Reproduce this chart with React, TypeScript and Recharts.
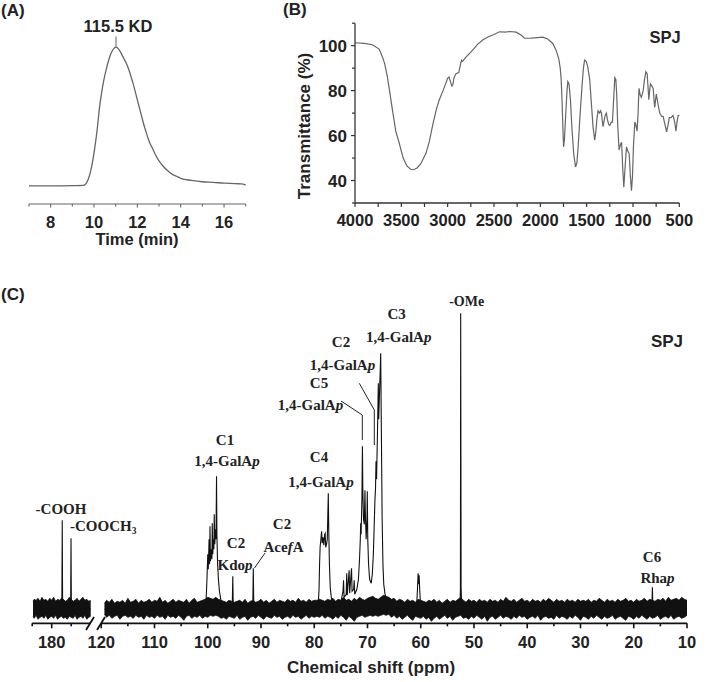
import React from 'react';
import { LineChart, Line, XAxis, YAxis, ComposedChart, Area } from 'recharts';

const SANS = '"Liberation Sans", Arial, sans-serif';
const SERIF = '"Liberation Serif", "Times New Roman", serif';

// ---------- Panel A: GPC elution profile ----------
const gpcTime = [7.0, 8.0, 9.0, 9.5, 9.55, 9.65, 9.75, 9.85, 9.95, 10.05, 10.15, 10.25, 10.35, 10.45, 10.55, 10.65, 10.75, 10.85, 10.95, 11.02, 11.1, 11.2, 11.3, 11.4, 11.5, 11.6, 11.7, 11.8, 11.9, 12.0, 12.1, 12.2, 12.3, 12.4, 12.5, 12.6, 12.7, 12.8, 13.0, 13.2, 13.4, 13.6, 13.8, 14.0, 14.5, 15.0, 15.5, 16.0, 16.5, 16.8, 17.0];
const gpcSignal = [0, 0, 0.002, 0.004, 0.006, 0.02, 0.055, 0.11, 0.19, 0.29, 0.41, 0.56, 0.67, 0.76, 0.83, 0.89, 0.94, 0.975, 0.995, 1.0, 0.99, 0.97, 0.94, 0.91, 0.88, 0.84, 0.79, 0.74, 0.68, 0.62, 0.56, 0.5, 0.44, 0.39, 0.34, 0.3, 0.27, 0.235, 0.18, 0.14, 0.11, 0.085, 0.07, 0.055, 0.04, 0.03, 0.026, 0.02, 0.016, 0.015, 0.006];
const gpcTicks = [7, 8, 9, 10, 11, 12, 13, 14, 15, 16, 17];
const gpcLabels = [8, 10, 12, 14, 16];

// ---------- Panel B: FT-IR ----------
const irPoints: [number, number][] = [
  [4000, 101.3], [3900, 101.0], [3812, 100.4], [3740, 98.5], [3704, 95], [3680, 92], [3650, 86], [3620, 78], [3596, 71.4], [3560, 62],
  [3524, 56.8], [3480, 50], [3440, 46.5], [3400, 45], [3370, 44.8], [3330, 45.6], [3290, 47.5], [3235, 52], [3200, 57], [3160, 65],
  [3120, 72], [3091, 75.8], [3050, 80], [3000, 85.5], [2985, 86], [2970, 84], [2955, 82], [2945, 82.5], [2930, 86], [2910, 87.5],
  [2880, 88], [2860, 92], [2850, 93.5], [2840, 93], [2800, 95], [2730, 98], [2680, 100.5], [2622, 102.5], [2560, 104], [2500, 105],
  [2441, 106.2], [2380, 106], [2330, 106.3], [2261, 106], [2200, 104.5], [2171, 103.3], [2100, 103.4], [2030, 103.6], [1974, 103.8], [1920, 103],
  [1865, 101], [1830, 98], [1800, 94], [1785, 90], [1775, 85], [1765, 75], [1755, 62], [1749, 55], [1740, 58], [1725, 70],
  [1712, 80], [1703, 84], [1690, 83], [1675, 76], [1660, 64], [1640, 52], [1620, 46], [1605, 48], [1590, 56], [1570, 70],
  [1550, 82], [1535, 90], [1522, 93.6], [1505, 93], [1490, 91], [1467, 85], [1450, 75], [1431, 64], [1413, 58], [1400, 62],
  [1390, 67], [1377, 71], [1360, 70], [1350, 71], [1340, 70], [1330, 66], [1323, 64], [1310, 67], [1300, 69], [1287, 70],
  [1275, 67], [1262, 65], [1250, 64.5], [1235, 66], [1222, 66], [1210, 75], [1196, 85.8], [1185, 85], [1175, 78], [1165, 65],
  [1150, 53.6], [1135, 56], [1123, 57], [1110, 45], [1099, 37], [1085, 46], [1070, 55], [1055, 53], [1041, 52], [1028, 42],
  [1016, 35.5], [1005, 42], [995, 55], [980, 66], [970, 65], [955, 62], [945, 70], [935, 81], [922, 78], [909, 77],
  [890, 80], [875, 85], [861, 88.4], [847, 87.5], [838, 82], [829, 76], [820, 80], [811, 83], [795, 82], [782, 81],
  [773, 76], [765, 72.5], [756, 76], [748, 78.5], [730, 74], [711, 70], [690, 68.5], [675, 68.5], [655, 65], [637, 61.7],
  [625, 64], [608, 68], [590, 68], [567, 69], [550, 66], [536, 62], [525, 66], [512, 69], [500, 69],
];
const irXTicks = [4000, 3750, 3500, 3250, 3000, 2750, 2500, 2250, 2000, 1750, 1500, 1250, 1000, 750, 500];
const irXLabels = [4000, 3500, 3000, 2500, 2000, 1500, 1000, 500];
const irYTicks = [30, 40, 50, 60, 70, 80, 90, 100, 110];
const irYLabels = [40, 60, 80, 100];

// ---------- Panel C: 13C NMR ----------
// noise band [ppm, low, high]
const nmrLeftBand: [number, number, number][] = [
  [184.8, -7, 8], [184.5, -9, 10], [184.0, -6, 9], [183.5, -10, 11], [183.0, -8, 8], [182.5, -7, 12], [182.0, -9, 9], [181.5, -6, 10],
  [181.0, -10, 8], [180.5, -8, 11], [180.0, -7, 9], [179.5, -9, 12], [179.0, -6, 8], [178.5, -10, 10], [178.0, -8, 9], [177.5, -7, 11],
  [177.0, -9, 10], [176.5, -8, 8], [176.0, -10, 9], [175.5, -7, 12], [175.0, -8, 10], [174.5, -9, 8], [174.0, -6, 9], [173.5, -10, 11],
  [173.0, -8, 8], [172.5, -7, 10], [172.0, -9, 12], [171.5, -6, 9], [171.0, -10, 10], [170.5, -8, 8], [170.0, -7, 9], [169.6, -5, 6],
];
const nmrRightBand: [number, number, number][] = [
  [119.4, -5, 6], [119.0, -8, 9], [118.5, -6, 7], [118.0, -9, 10], [117.5, -7, 6], [117.0, -6, 8], [116.5, -10, 7], [116.0, -7, 9], [115.5, -6, 6], [115.0, -8, 11],
  [114.5, -7, 7], [114.0, -9, 8], [113.5, -6, 10], [113.0, -8, 6], [112.5, -7, 9], [112.0, -10, 7], [111.5, -6, 8], [111.0, -8, 10], [110.5, -7, 7], [110.0, -9, 9],
  [109.5, -6, 8], [109.0, -8, 12], [108.5, -7, 7], [108.0, -10, 9], [107.5, -6, 6], [107.0, -8, 8], [106.5, -7, 10], [106.0, -9, 7], [105.5, -6, 9], [105.0, -8, 8],
  [104.5, -11, 7], [104.0, -7, 10], [103.5, -6, 6], [103.0, -9, 9], [102.5, -7, 11], [102.0, -8, 7], [101.5, -6, 8], [101.0, -9, 9], [100.5, -7, 10], [100.0, -8, 12],
  [99.5, -6, 11], [99.0, -7, 10], [98.5, -6, 12], [98.0, -7, 10], [97.5, -9, 9], [97.0, -8, 8], [96.5, -10, 7], [96.0, -7, 9], [95.5, -8, 8], [95.0, -9, 7],
  [94.5, -6, 8], [94.0, -10, 9], [93.5, -8, 7], [93.0, -7, 10], [92.5, -11, 6], [92.0, -8, 8], [91.5, -7, 9], [91.0, -9, 7], [90.5, -6, 8], [90.0, -8, 10],
  [89.5, -10, 7], [89.0, -7, 9], [88.5, -8, 6], [88.0, -9, 8], [87.5, -6, 10], [87.0, -8, 7], [86.5, -7, 9], [86.0, -10, 8], [85.5, -8, 7], [85.0, -7, 10],
  [84.5, -9, 8], [84.0, -6, 9], [83.5, -8, 7], [83.0, -7, 11], [82.5, -10, 8], [82.0, -8, 9], [81.5, -6, 7], [81.0, -9, 10], [80.5, -7, 8], [80.0, -8, 9],
  [79.5, -7, 9], [79.0, -8, 10], [78.5, -6, 9], [78.0, -9, 8], [77.5, -7, 10], [77.0, -8, 9], [76.5, -10, 11], [76.0, -7, 8], [75.5, -9, 10], [75.0, -6, 9],
  [74.5, -8, 12], [74.0, -11, 9], [73.5, -7, 10], [73.0, -9, 8], [72.5, -12, 11], [72.0, -8, 9], [71.5, -7, 12], [71.0, -6, 10], [70.5, -8, 9], [70.0, -7, 11],
  [69.5, -6, 12], [69.0, -7, 13], [68.5, -6, 11], [68.0, -7, 10], [67.5, -6, 12], [67.0, -5, 14], [66.5, -6, 13], [66.0, -5, 12], [65.5, -8, 10], [65.0, -6, 11],
  [64.5, -9, 8], [64.0, -7, 10], [63.5, -10, 9], [63.0, -8, 7], [62.5, -6, 10], [62.0, -9, 8], [61.5, -11, 9], [61.0, -7, 7], [60.5, -8, 10], [60.0, -9, 9],
  [59.5, -7, 8], [59.0, -10, 7], [58.5, -8, 9], [58.0, -12, 8], [57.5, -9, 10], [57.0, -7, 7], [56.5, -10, 9], [56.0, -8, 6], [55.5, -6, 8], [55.0, -9, 10],
  [54.5, -7, 7], [54.0, -11, 9], [53.5, -8, 8], [53.0, -7, 10], [52.5, -6, 12], [52.0, -9, 9], [51.5, -8, 7], [51.0, -10, 10], [50.5, -7, 8], [50.0, -9, 9],
  [49.5, -6, 7], [49.0, -8, 10], [48.5, -10, 8], [48.0, -7, 9], [47.5, -12, 7], [47.0, -8, 10], [46.5, -7, 8], [46.0, -10, 9], [45.5, -8, 7], [45.0, -6, 10],
  [44.5, -9, 8], [44.0, -7, 12], [43.5, -8, 9], [43.0, -10, 8], [42.5, -7, 10], [42.0, -9, 7], [41.5, -6, 9], [41.0, -8, 11], [40.5, -7, 8], [40.0, -10, 9],
  [39.5, -8, 7], [39.0, -7, 10], [38.5, -9, 8], [38.0, -6, 9], [37.5, -11, 7], [37.0, -8, 10], [36.5, -7, 8], [36.0, -9, 11], [35.5, -8, 9], [35.0, -10, 7],
  [34.5, -6, 10], [34.0, -9, 8], [33.5, -7, 9], [33.0, -8, 7], [32.5, -10, 10], [32.0, -7, 8], [31.5, -9, 9], [31.0, -6, 7], [30.5, -8, 10], [30.0, -11, 8],
  [29.5, -7, 9], [29.0, -8, 8], [28.5, -10, 10], [28.0, -7, 7], [27.5, -9, 9], [27.0, -6, 8], [26.5, -8, 11], [26.0, -10, 9], [25.5, -7, 7], [25.0, -9, 10],
  [24.5, -8, 8], [24.0, -6, 9], [23.5, -10, 7], [23.0, -8, 10], [22.5, -7, 8], [22.0, -9, 9], [21.5, -11, 11], [21.0, -7, 8], [20.5, -8, 9], [20.0, -10, 7],
  [19.5, -7, 10], [19.0, -9, 8], [18.5, -6, 9], [18.0, -8, 11], [17.5, -10, 8], [17.0, -7, 10], [16.5, -9, 9], [16.0, -8, 8], [15.5, -6, 10], [15.0, -10, 9],
  [14.5, -8, 11], [14.0, -7, 8], [13.5, -9, 12], [13.0, -6, 9], [12.5, -10, 10], [12.0, -8, 11], [11.5, -7, 9], [11.0, -9, 12], [10.5, -8, 10], [10.0, -6, 9],
];
// resonance trace [ppm, intensity]
const nmrLeftPeaks: [number, number][] = [
  [184.8, 0], [177.4, 0], [177.3, 89], [177.2, 0], [175.15, 0], [175.05, 71], [174.95, 0], [169.6, 0],
];
const nmrRightPeaks: [number, number][] = [
  [119.4, 0], [100.6, 0], [100.3, 10], [100.15, 30], [100.0, 55], [99.9, 40], [99.75, 70], [99.65, 45], [99.58, 83], [99.5, 48],
  [99.35, 60], [99.22, 50], [99.15, 86], [99.05, 55], [98.95, 70], [98.85, 60], [98.78, 95], [98.68, 65], [98.55, 80], [98.45, 70],
  [98.35, 133], [98.28, 75], [98.15, 45], [98.0, 30], [97.8, 18], [97.5, 8], [97.2, 0],
  [95.4, 0], [95.3, 33], [95.2, 0],
  [91.55, 0], [91.45, 41], [91.35, 0],
  [79.3, 0], [79.1, 20], [79.0, 45], [78.9, 62], [78.75, 70], [78.62, 78], [78.5, 66], [78.35, 72], [78.2, 64], [78.05, 75],
  [77.95, 76], [77.85, 62], [77.7, 65], [77.55, 70], [77.45, 95], [77.36, 116], [77.28, 80], [77.15, 45], [77.0, 22], [76.8, 12],
  [76.5, 5], [76.2, 0],
  [75.2, 0], [74.9, 10], [74.6, 18], [74.5, 29], [74.4, 12], [74.0, 15], [73.9, 36], [73.8, 14], [73.45, 39], [73.35, 16],
  [73.0, 41], [72.9, 18], [72.6, 20], [72.5, 29], [72.4, 15], [72.0, 20], [71.7, 30], [71.5, 50], [71.35, 70], [71.28, 86],
  [71.2, 75], [71.05, 110], [70.95, 163], [70.88, 120], [70.75, 90], [70.6, 85], [70.48, 119], [70.4, 95], [70.25, 70], [70.1, 90],
  [70.04, 118], [69.95, 70], [69.8, 45], [69.6, 30], [69.3, 26], [69.1, 35], [68.9, 55], [68.75, 82], [68.6, 110], [68.5, 120],
  [68.4, 148], [68.3, 130], [68.15, 170], [68.05, 200], [67.97, 226], [67.9, 190], [67.75, 215], [67.6, 240], [67.52, 256], [67.45, 210],
  [67.35, 150], [67.25, 90], [67.1, 45], [66.95, 25], [66.7, 15], [66.3, 8], [65.8, 0],
  [60.8, 0], [60.6, 22], [60.5, 36], [60.4, 25], [60.3, 34], [60.2, 20], [60.0, 0],
  [52.65, 0], [52.55, 20], [52.5, 296], [52.42, 22], [52.3, 0],
  [16.6, 0], [16.5, 22], [16.4, 0],
  [10.0, 0],
];
const nmrLeftTicks = [185, 180, 175];
const nmrRightTicks = [120, 115, 110, 105, 100, 95, 90, 85, 80, 75, 70, 65, 60, 55, 50, 45, 40, 35, 30, 25, 20, 15, 10];
const nmrLabelStep = 10;

// ---------- derived chart rows ----------
const gpcData = gpcTime.map((t, i) => ({ t, s: gpcSignal[i] }));
const irData = irPoints.map(([w, T]) => ({ w, T }));
const toBand = (rows: [number, number, number][]) => rows.map(([ppm, lo, hi]) => ({ ppm, range: [lo, hi] }));
const toTrace = (rows: [number, number][]) => rows.map(([ppm, v]) => ({ ppm, v }));

type TickOpts = {
  labels: (v: number) => boolean;
  major: (v: number) => boolean;
  majorLen: number;
  minorLen: number;
  dy: number;
  fontSize: number;
  stroke: string;
  strokeWidth: number;
  color: string;
};

const bottomTick = (o: TickOpts) => (props: any) => {
  const { x, y, payload } = props;
  const v = payload.value;
  const len = o.major(v) ? o.majorLen : o.minorLen;
  return (
    <g>
      <line x1={x} x2={x} y1={y} y2={y + len} stroke={o.stroke} strokeWidth={o.strokeWidth} />
      {o.labels(v) ? (
        <text x={x} y={y + o.dy} textAnchor="middle" fontFamily={SANS} fontWeight="bold" fontSize={o.fontSize} fill={o.color}>
          {v}
        </text>
      ) : null}
    </g>
  );
};

const leftTick = (props: any) => {
  const { x, y, payload } = props;
  const v = payload.value;
  const major = irYLabels.includes(v);
  return (
    <g>
      <line x1={x} x2={x - (major ? 4 : 3)} y1={y} y2={y} stroke="#333" strokeWidth={1.2} />
      {major ? (
        <text x={x - 8} y={y + 6} textAnchor="end" fontFamily={SANS} fontWeight="bold" fontSize={17} fill="#222">
          {v}
        </text>
      ) : null}
    </g>
  );
};

const nmrTick = bottomTick({
  labels: (v) => v % nmrLabelStep === 0,
  major: (v) => v % nmrLabelStep === 0,
  majorLen: 5,
  minorLen: 3,
  dy: 24.7,
  fontSize: 16.5,
  stroke: '#111',
  strokeWidth: 1.6,
  color: '#222',
});

const NMR_MARGIN = { top: 20, bottom: 0 };
const NMR_Y = [-14, 309.3];

const Sub = ({ children }: { children: React.ReactNode }) => <tspan fontStyle="italic">{children}</tspan>;

export default function App() {
  const serif = { fontFamily: SERIF, fontWeight: 'bold' as const, fill: '#222' };
  const sans = { fontFamily: SANS, fontWeight: 'bold' as const, fill: '#222' };
  const fs = 15;
  return (
    <div style={{ position: 'absolute', left: 0, top: 0, width: 709, height: 682, background: '#fff', overflow: 'hidden' }}>
      {/* Panel A */}
      <div style={{ position: 'absolute', left: 0, top: 0 }}>
        <LineChart width={260} height={260} data={gpcData} margin={{ top: 33.1, right: 14.3, bottom: 0, left: 29 }}>
          <XAxis
            dataKey="t"
            type="number"
            domain={[7, 17]}
            ticks={gpcTicks}
            interval={0}
            height={56}
            tickSize={0}
            tickMargin={0}
            tickLine={false}
            axisLine={{ stroke: '#666', strokeWidth: 1.2 }}
            tick={bottomTick({
              labels: (v) => gpcLabels.includes(v),
              major: (v) => gpcLabels.includes(v),
              majorLen: 3.5,
              minorLen: 2.5,
              dy: 23.7,
              fontSize: 16.5,
              stroke: '#666',
              strokeWidth: 1.1,
              color: '#222',
            })}
          />
          <YAxis hide domain={[-0.13, 1.1]} allowDataOverflow />
          <Line type="monotone" dataKey="s" stroke="#666" strokeWidth={1.3} dot={false} isAnimationActive={false} />
        </LineChart>
      </div>

      {/* Panel B */}
      <div style={{ position: 'absolute', left: 260, top: 0 }}>
        <LineChart width={449} height={260} data={irData} margin={{ top: 23.2, right: 29.7, bottom: 0, left: 0 }}>
          <XAxis
            dataKey="w"
            type="number"
            domain={[500, 4000]}
            reversed
            ticks={irXTicks}
            interval={0}
            height={57}
            tickSize={0}
            tickMargin={0}
            tickLine={false}
            axisLine={{ stroke: '#333', strokeWidth: 1.3 }}
            tick={bottomTick({
              labels: (v) => irXLabels.includes(v),
              major: () => true,
              majorLen: 4,
              minorLen: 4,
              dy: 22.7,
              fontSize: 16.5,
              stroke: '#333',
              strokeWidth: 1.2,
              color: '#222',
            })}
          />
          <YAxis
            type="number"
            domain={[30, 110]}
            ticks={irYTicks}
            interval={0}
            width={95}
            tickSize={0}
            tickMargin={0}
            tickLine={false}
            axisLine={{ stroke: '#333', strokeWidth: 1.3 }}
            tick={leftTick}
            allowDataOverflow
          />
          <Line type="linear" dataKey="T" stroke="#666" strokeWidth={1.2} dot={false} isAnimationActive={false} />
        </LineChart>
      </div>

      {/* Panel C left segment (broken axis) */}
      <div style={{ position: 'absolute', left: 0, top: 280 }}>
        <ComposedChart width={100} height={400} margin={{ ...NMR_MARGIN, left: 32.2, right: 9.3 }}>
          <XAxis
            dataKey="ppm"
            type="number"
            domain={[170, 185]}
            reversed
            allowDataOverflow
            ticks={nmrLeftTicks}
            interval={0}
            height={56.7}
            tickSize={0}
            tickMargin={0}
            tickLine={false}
            axisLine={{ stroke: '#111', strokeWidth: 1.8 }}
            tick={nmrTick}
          />
          <YAxis hide domain={NMR_Y} allowDataOverflow />
          <Area data={toBand(nmrLeftBand)} dataKey="range" type="linear" stroke="#111" strokeWidth={0.8} fill="#111" fillOpacity={1} isAnimationActive={false} dot={false} />
          <Line data={toTrace(nmrLeftPeaks)} dataKey="v" type="linear" stroke="#111" strokeWidth={1.1} dot={false} isAnimationActive={false} />
        </ComposedChart>
      </div>

      {/* Panel C right segment */}
      <div style={{ position: 'absolute', left: 0, top: 280 }}>
        <ComposedChart width={709} height={400} margin={{ ...NMR_MARGIN, left: 101.25, right: 22 }}>
          <XAxis
            dataKey="ppm"
            type="number"
            domain={[10, 120]}
            reversed
            allowDataOverflow
            ticks={nmrRightTicks}
            interval={0}
            height={56.7}
            tickSize={0}
            tickMargin={0}
            tickLine={false}
            axisLine={{ stroke: '#111', strokeWidth: 1.8 }}
            tick={nmrTick}
          />
          <YAxis hide domain={NMR_Y} allowDataOverflow />
          <Area data={toBand(nmrRightBand)} dataKey="range" type="linear" stroke="#111" strokeWidth={0.8} fill="#111" fillOpacity={1} isAnimationActive={false} dot={false} />
          <Line data={toTrace(nmrRightPeaks)} dataKey="v" type="linear" stroke="#111" strokeWidth={1.1} dot={false} isAnimationActive={false} />
        </ComposedChart>
      </div>

      {/* Annotations */}
      <svg width={709} height={682} style={{ position: 'absolute', left: 0, top: 0, pointerEvents: 'none' }}>
        {/* panel letters */}
        <text x={1} y={16} fontSize={17} {...sans}>(A)</text>
        <text x={283} y={15} fontSize={17} {...sans}>(B)</text>
        <text x={1} y={300} fontSize={17} {...sans}>(C)</text>

        {/* Panel A */}
        <text x={118} y={31.5} textAnchor="middle" fontSize={16.5} {...sans}>115.5 KD</text>
        <line x1={116} x2={116} y1={36.5} y2={46} stroke="#666" strokeWidth={1} />
        <text x={137} y={245} textAnchor="middle" fontSize={16.5} {...sans}>Time (min)</text>

        {/* Panel B */}
        <text x={310} y={126} textAnchor="middle" fontSize={17} transform="rotate(-90 310 126)" {...sans}>Transmittance (%)</text>
        <text x={665} y={43} textAnchor="middle" fontSize={16.5} {...sans}>SPJ</text>

        {/* Panel C */}
        <text x={667} y={346.5} textAnchor="middle" fontSize={17} {...sans}>SPJ</text>
        <text x={371} y={673} textAnchor="middle" fontSize={17} {...sans}>Chemical shift (ppm)</text>
        <line x1={86} y1={630} x2={94} y2={617} stroke="#111" strokeWidth={1.8} />
        <line x1={97} y1={630} x2={105} y2={617} stroke="#111" strokeWidth={1.8} />

        <text x={61} y={514} textAnchor="middle" fontSize={fs} {...serif}>-COOH</text>
        <text x={70} y={530.5} fontSize={fs} {...serif}>
          -COOCH<tspan fontSize={9.5} dy={3}>3</tspan>
        </text>

        <text x={225} y={445} textAnchor="middle" fontSize={fs} {...serif}>C1</text>
        <text x={227} y={466} textAnchor="middle" fontSize={fs} {...serif}>1,4-GalA<Sub>p</Sub></text>

        <text x={236} y={548.3} textAnchor="middle" fontSize={fs} {...serif}>C2</text>
        <text x={235} y={570} textAnchor="middle" fontSize={fs} {...serif}>Kdo<Sub>p</Sub></text>

        <text x={282} y={529.3} textAnchor="middle" fontSize={fs} {...serif}>C2</text>
        <text x={283.5} y={551.7} textAnchor="middle" fontSize={fs} {...serif}>Ace<Sub>f</Sub>A</text>
        <line x1={254.5} y1={568} x2={265} y2={553} stroke="#222" strokeWidth={1} />

        <text x={319} y={461.7} textAnchor="middle" fontSize={fs} {...serif}>C4</text>
        <text x={321} y={486.7} textAnchor="middle" fontSize={fs} {...serif}>1,4-GalA<Sub>p</Sub></text>

        <text x={319} y={388.3} textAnchor="middle" fontSize={fs} {...serif}>C5</text>
        <text x={310.5} y={410} textAnchor="middle" fontSize={fs} {...serif}>1,4-GalA<Sub>p</Sub></text>
        <polyline points="341,401 362.3,415 362.3,440" fill="none" stroke="#222" strokeWidth={1} />

        <text x={341} y={346.7} textAnchor="middle" fontSize={fs} {...serif}>C2</text>
        <text x={342.5} y={370} textAnchor="middle" fontSize={fs} {...serif}>1,4-GalA<Sub>p</Sub></text>
        <polyline points="359.3,383.3 374.3,410 374.3,445" fill="none" stroke="#222" strokeWidth={1} />

        <text x={396.7} y={319.3} textAnchor="middle" fontSize={fs} {...serif}>C3</text>
        <text x={398.7} y={341.7} textAnchor="middle" fontSize={fs} {...serif}>1,4-GalA<Sub>p</Sub></text>

        <text x={466.7} y={306} textAnchor="middle" fontSize={14} {...serif}>-OMe</text>

        <text x={652} y={561.7} textAnchor="middle" fontSize={fs} {...serif}>C6</text>
        <text x={657.5} y={583.3} textAnchor="middle" fontSize={fs} {...serif}>Rha<Sub>p</Sub></text>
      </svg>
    </div>
  );
}
